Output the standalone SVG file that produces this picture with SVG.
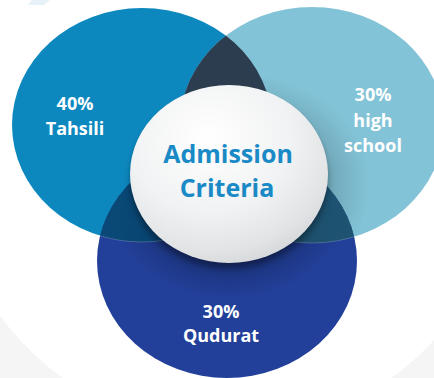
<svg xmlns="http://www.w3.org/2000/svg" width="434" height="378" viewBox="0 0 434 378">
<style>
.lbl{font-family:"Open Sans","Noto Sans","Liberation Sans",sans-serif;font-weight:700;fill:#ffffff;font-size:18px;text-anchor:middle}
.ttl{font-family:"Open Sans","Noto Sans","Liberation Sans",sans-serif;font-weight:700;fill:#1a8ac6;font-size:25px;text-anchor:middle}
</style>
<defs>
<clipPath id="cL"><ellipse cx="142" cy="125" rx="130" ry="117"/></clipPath>
<clipPath id="cR"><ellipse cx="312" cy="125" rx="132" ry="118"/></clipPath>
<clipPath id="cB"><ellipse cx="227" cy="261" rx="130" ry="117"/></clipPath>
<radialGradient id="gW" cx="0.4" cy="0.3" r="0.75">
<stop offset="0" stop-color="#ffffff"/>
<stop offset="0.55" stop-color="#f1f2f3"/>
<stop offset="0.85" stop-color="#e2e3e5"/>
<stop offset="1" stop-color="#d3d5d8"/>
</radialGradient>
<linearGradient id="gLB" x1="0" y1="0" x2="1" y2="0">
<stop offset="0" stop-color="#0a4a78"/>
<stop offset="1" stop-color="#062f55"/>
</linearGradient>
<linearGradient id="gRB" x1="0" y1="0" x2="1" y2="0">
<stop offset="0" stop-color="#14384f"/>
<stop offset="1" stop-color="#1e5573"/>
</linearGradient>
<radialGradient id="gSh" cx="0.5" cy="0.5" r="0.5">
<stop offset="0.6" stop-color="#000" stop-opacity="0.35"/>
<stop offset="1" stop-color="#000" stop-opacity="0"/>
</radialGradient>
<filter id="fBlur" x="-20%" y="-20%" width="140%" height="140%"><feGaussianBlur stdDeviation="3"/></filter>
</defs>
<rect width="434" height="378" fill="#f5f5f5"/>
<circle cx="227" cy="150" r="281" fill="#ffffff"/>
<polygon points="32,0 50,0 44,5 28,5" fill="#e6f1f8"/>
<g id="tahsili">
<ellipse cx="142" cy="125" rx="130" ry="117" fill="#0d88bf"/>
</g>
<g id="high-school">
<ellipse cx="312" cy="125" rx="132" ry="118" fill="#83c3d7"/>
<ellipse cx="245" cy="185" rx="125" ry="110" fill="url(#gSh)" opacity="0.5" clip-path="url(#cR)"/>
</g>
<g id="qudurat">
<ellipse cx="227" cy="261" rx="130" ry="117" fill="#22409a"/>
<ellipse cx="229" cy="190" rx="125" ry="110" fill="url(#gSh)" opacity="0.7" clip-path="url(#cB)"/>
</g>
<g id="overlaps">
<ellipse cx="312" cy="125" rx="132" ry="118" fill="#2b3d4f" clip-path="url(#cL)"/>
<g clip-path="url(#cL)"><ellipse cx="227" cy="261" rx="130" ry="117" fill="url(#gLB)"/></g>
<g clip-path="url(#cR)"><ellipse cx="227" cy="261" rx="130" ry="117" fill="url(#gRB)"/></g>
<g clip-path="url(#cB)" fill="none" stroke="#ffffff" stroke-opacity="0.25" stroke-width="0.8">
<ellipse cx="142" cy="125" rx="130" ry="117"/>
<ellipse cx="312" cy="125" rx="132" ry="118"/>
</g>
</g>
<g id="connectors"/>
<g id="center">
<ellipse cx="229" cy="180" rx="99" ry="89" fill="#000" opacity="0.35" filter="url(#fBlur)"/>
<ellipse cx="229" cy="174" rx="99" ry="89" fill="url(#gW)"/>
<text class="ttl" x="228" y="163">Admission</text>
<text class="ttl" x="227" y="197">Criteria</text>
</g>
<g id="labels">
<text class="lbl" x="75" y="110">40%</text>
<text class="lbl" x="75" y="135">Tahsili</text>
<text class="lbl" x="373" y="101">30%</text>
<text class="lbl" x="373" y="127">high</text>
<text class="lbl" x="373" y="152">school</text>
<text class="lbl" x="221" y="318">30%</text>
<text class="lbl" x="221" y="342">Qudurat</text>
</g>
</svg>
